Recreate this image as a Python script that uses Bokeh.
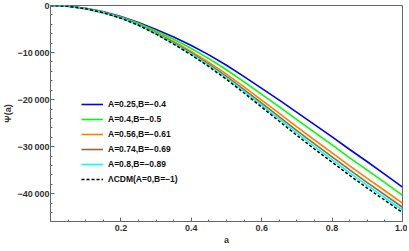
from bokeh.plotting import figure
from bokeh.models import Range1d, Legend, LegendItem, FixedTicker
from bokeh.embed import file_html
from bokeh.resources import INLINE

# ---- data ----
a_vals = [0.0, 0.05, 0.1, 0.15, 0.2, 0.25, 0.3, 0.35, 0.4, 0.45, 0.5,
          0.55, 0.6, 0.65, 0.7, 0.75, 0.8, 0.85, 0.9, 0.95, 1.0]
psi_blue = [0, -160, -600, -1350, -2350, -3600, -5100, -6700, -8500, -10500, -12700,
            -15100, -17600, -20100, -22700, -25300, -27900, -30600, -33200, -35900, -38600]
psi_green = [0, -165, -632, -1414, -2462, -3792, -5420, -7180, -9140, -11300, -13660,
             -16220, -18880, -21540, -24270, -26960, -29630, -32360, -34990, -37660, -40330]
psi_orange = [0, -169, -663, -1476, -2570, -3978, -5730, -7645, -9760, -12075, -14590,
              -17305, -20120, -22935, -25790, -28580, -31300, -34065, -36730, -39365, -42000]
psi_brown = [0, -172, -679, -1508, -2627, -4074, -5890, -7885, -10080, -12475, -15070,
             -17865, -20760, -23655, -26570, -29410, -32170, -34945, -37620, -40245, -42870]
psi_cyan = [0, -174, -690, -1530, -2665, -4140, -6000, -8050, -10300, -12750, -15400,
            -18250, -21200, -24150, -27110, -29980, -32760, -35550, -38240, -40850, -43460]
psi_lcdm = [0, -175, -700, -1550, -2700, -4200, -6100, -8200, -10500, -13000, -15700,
            -18600, -21600, -24600, -27600, -30500, -33300, -36100, -38800, -41400, -44000]

labels = ["A=0.25,B=\u22120.4", "A=0.4,B=\u22120.5", "A=0.56,B=\u22120.61",
          "A=0.74,B=\u22120.69", "A=0.8,B=\u22120.89", "\u039bCDM(A=0,B=\u22121)"]
colors = ["#0000ff", "#00ff00", "#ff8000", "#996633", "#00ffff", "#000000"]
series = [psi_blue, psi_green, psi_orange, psi_brown, psi_cyan, psi_lcdm]

x_ticks = [0.2, 0.4, 0.6, 0.8, 1.0]
x_tick_labels = ["0.2", "0.4", "0.6", "0.8", "1.0"]
y_ticks = [0, -10000, -20000, -30000, -40000]
y_tick_labels = ["0", "\u221210\u2009000", "\u221220\u2009000", "\u221230\u2009000", "\u221240\u2009000"]

FONT = "Liberation Sans"
TXT = "#333333"
FRAME = "#666666"

p = figure(frame_width=352, frame_height=216, output_backend="svg", toolbar_location=None,
           x_range=Range1d(0, 1), y_range=Range1d(-45900, 0),
           min_border_left=2, min_border_right=5, min_border_top=5, min_border_bottom=0)
p.grid.visible = False
p.outline_line_color = FRAME
p.background_fill_color = "white"
p.border_fill_color = "white"

renderers = []
for i, (ys, c) in enumerate(zip(series, colors)):
    if i == len(series) - 1:
        r = p.line(a_vals, ys, line_color=c, line_width=1.5, line_dash="3 2")
    else:
        r = p.line(a_vals, ys, line_color=c, line_width=1.6)
    renderers.append(r)


def style_axis(ax):
    ax.axis_line_color = FRAME
    ax.major_tick_line_color = FRAME
    ax.minor_tick_line_color = FRAME
    ax.major_tick_in = 4
    ax.major_tick_out = 0
    ax.minor_tick_in = 2
    ax.minor_tick_out = 0
    ax.major_label_text_font = FONT
    ax.major_label_text_font_style = "bold"
    ax.major_label_text_font_size = "9px"
    ax.major_label_text_color = TXT
    ax.major_label_standoff = 1
    ax.axis_label_text_font = FONT
    ax.axis_label_text_font_style = "bold"
    ax.axis_label_text_font_size = "9px"
    ax.axis_label_text_color = TXT
    ax.axis_label_standoff = 1


xax = p.xaxis[0]
style_axis(xax)
xax.ticker = FixedTicker(ticks=x_ticks, minor_ticks=[i * 0.05 for i in range(21)])
xax.major_label_overrides = {t: l for t, l in zip(x_ticks, x_tick_labels)}
xax.axis_label = "a"
xax.major_label_standoff = 3

yax = p.yaxis[0]
style_axis(yax)
yax.ticker = FixedTicker(ticks=y_ticks, minor_ticks=[-2000 * i for i in range(23)])
yax.major_label_overrides = {t: l for t, l in zip(y_ticks, y_tick_labels)}
yax.axis_label = "\u03a8(a)"

legend = Legend(items=[LegendItem(label=l, renderers=[r]) for l, r in zip(labels, renderers)],
                location=(31, 36), background_fill_alpha=0, border_line_alpha=0,
                padding=0, margin=0, spacing=3, glyph_height=12, glyph_width=22,
                label_height=12, label_standoff=5,
                label_text_font=FONT, label_text_font_style="bold",
                label_text_font_size="8.5px", label_text_color="#111111")
p.add_layout(legend, "center")

open("out.html", "w").write(file_html(p, INLINE))
